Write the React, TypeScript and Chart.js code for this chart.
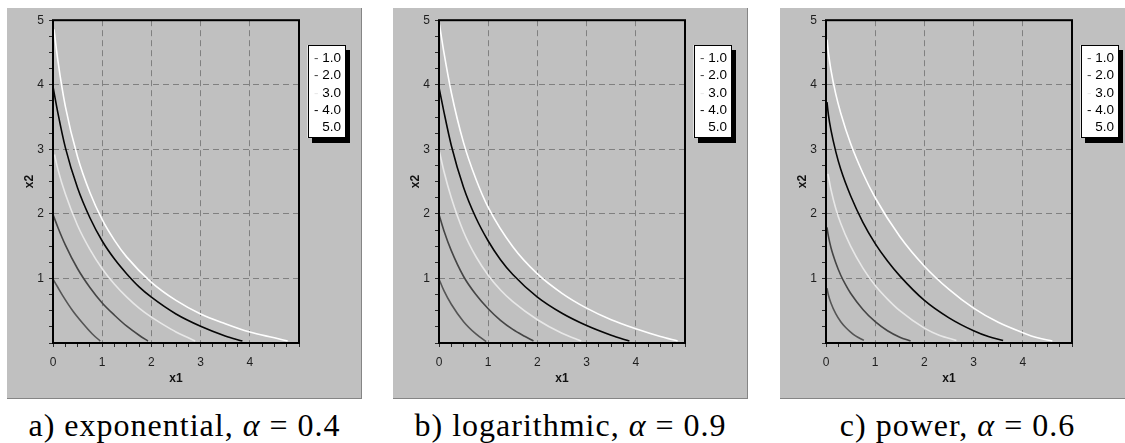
import React, { useEffect, useRef } from 'react';
import { Chart, registerables } from 'chart.js';

Chart.register(...registerables);

type Pt = [number, number];

// ---- data ----
const levelLabels = ['1.0', '2.0', '3.0', '4.0', '5.0'];
const seriesColors = ['#555555', '#454545', '#e8e8e8', '#060606', '#ffffff'];
const xTickLabels = ['0', '1', '2', '3', '4'];
const yTickLabels = ['1', '2', '3', '4', '5'];
const axisMin = 0;
const axisMax = 5;
const minorStep = 0.25;

// a) exponential, alpha = 0.4
const expCurve1: Pt[] = [[0, 0.99], [0.1, 0.86], [0.2, 0.73], [0.4, 0.5], [0.6, 0.31], [0.8, 0.14], [0.96, 0.03]];
const expCurve2: Pt[] = [[0, 1.99], [0.1, 1.79], [0.25, 1.52], [0.5, 1.15], [0.75, 0.86], [1, 0.62], [1.25, 0.43], [1.5, 0.26], [1.75, 0.12], [1.93, 0.03]];
const expCurve3: Pt[] = [[0.03, 2.92], [0.1, 2.69], [0.25, 2.31], [0.5, 1.82], [0.75, 1.45], [1, 1.15], [1.25, 0.91], [1.5, 0.71], [1.75, 0.54], [2, 0.4], [2.25, 0.28], [2.5, 0.17], [2.75, 0.08], [2.89, 0.03]];
const expCurve4: Pt[] = [[0, 3.97], [0.1, 3.56], [0.25, 3.03], [0.5, 2.4], [0.75, 1.94], [1, 1.58], [1.25, 1.3], [1.5, 1.07], [1.75, 0.87], [2, 0.71], [2.5, 0.45], [3, 0.26], [3.5, 0.11], [3.85, 0.03]];
const expCurve5: Pt[] = [[0.02, 4.86], [0.1, 4.37], [0.25, 3.67], [0.5, 2.88], [0.75, 2.33], [1, 1.91], [1.25, 1.59], [1.5, 1.33], [2, 0.94], [2.5, 0.66], [3, 0.45], [3.5, 0.3], [4, 0.17], [4.5, 0.08], [4.77, 0.03]];

// b) logarithmic, alpha = 0.9
const logCurve1: Pt[] = [[0, 0.99], [0.1, 0.81], [0.25, 0.6], [0.5, 0.33], [0.75, 0.14], [0.96, 0.02]];
const logCurve2: Pt[] = [[0, 1.99], [0.1, 1.74], [0.25, 1.43], [0.5, 1.03], [0.75, 0.75], [1, 0.53], [1.25, 0.35], [1.5, 0.21], [1.75, 0.1], [1.92, 0.03]];
const logCurve3: Pt[] = [[0.01, 2.96], [0.1, 2.66], [0.25, 2.25], [0.5, 1.72], [0.75, 1.34], [1, 1.05], [1.25, 0.82], [1.5, 0.64], [2, 0.36], [2.5, 0.15], [2.89, 0.03]];
const logCurve4: Pt[] = [[0, 3.96], [0.1, 3.58], [0.25, 3.06], [0.5, 2.41], [0.75, 1.94], [1, 1.58], [1.25, 1.29], [1.5, 1.06], [2, 0.71], [2.5, 0.46], [3, 0.27], [3.5, 0.12], [3.87, 0.03]];
const logCurve5: Pt[] = [[0.01, 4.93], [0.1, 4.5], [0.25, 3.88], [0.5, 3.1], [0.75, 2.54], [1, 2.1], [1.5, 1.49], [2, 1.07], [2.5, 0.77], [3, 0.54], [3.5, 0.36], [4, 0.22], [4.5, 0.1], [4.85, 0.03]];

// c) power, alpha = 0.6
const powCurve1: Pt[] = [[0.02, 0.85], [0.05, 0.74], [0.1, 0.62], [0.2, 0.45], [0.3, 0.33], [0.4, 0.24], [0.5, 0.17], [0.6, 0.11], [0.77, 0.04]];
const powCurve2: Pt[] = [[0.02, 1.79], [0.05, 1.65], [0.1, 1.48], [0.2, 1.24], [0.3, 1.05], [0.4, 0.9], [0.5, 0.77], [0.75, 0.52], [1, 0.33], [1.25, 0.19], [1.5, 0.09], [1.72, 0.03]];
const powCurve3: Pt[] = [[0.04, 2.62], [0.1, 2.38], [0.2, 2.08], [0.3, 1.85], [0.5, 1.5], [0.75, 1.16], [1, 0.89], [1.25, 0.68], [1.5, 0.5], [2, 0.23], [2.3, 0.12], [2.65, 0.04]];
const powCurve4: Pt[] = [[0.02, 3.73], [0.05, 3.53], [0.1, 3.3], [0.2, 2.96], [0.3, 2.69], [0.5, 2.28], [0.75, 1.87], [1, 1.54], [1.25, 1.27], [1.5, 1.04], [2, 0.66], [2.5, 0.39], [3, 0.19], [3.3, 0.1], [3.6, 0.04]];
const powCurve5: Pt[] = [[0.02, 4.7], [0.05, 4.49], [0.1, 4.23], [0.2, 3.85], [0.3, 3.56], [0.5, 3.09], [0.75, 2.63], [1, 2.25], [1.5, 1.65], [2, 1.19], [2.5, 0.83], [3, 0.54], [3.5, 0.32], [4, 0.16], [4.3, 0.08], [4.6, 0.03]];

const panels = [
  { curves: [expCurve1, expCurve2, expCurve3, expCurve4, expCurve5], left: 7, prefix: 'a) exponential, ', alpha: '0.4' },
  { curves: [logCurve1, logCurve2, logCurve3, logCurve4, logCurve5], left: 393, prefix: 'b) logarithmic, ', alpha: '0.9' },
  { curves: [powCurve1, powCurve2, powCurve3, powCurve4, powCurve5], left: 780, prefix: 'c) power, ', alpha: '0.6' },
];

// ---- styling ----
const PANEL_W = 355;
const PANEL_H = 391;
const SANS = '"Liberation Sans", Arial, Helvetica, sans-serif';

const frameLegendPlugin = {
  id: 'frameLegend',
  afterDatasetsDraw(chart: any) {
    const { ctx, chartArea: a } = chart;
    ctx.save();
    ctx.strokeStyle = '#000';
    ctx.lineWidth = 2;
    ctx.strokeRect(a.left, a.top, a.right - a.left, a.bottom - a.top);
    ctx.restore();
  },
  afterDraw(chart: any) {
    const { ctx, chartArea: a } = chart;
    const bx = a.right + 8.5;
    const by = 37;
    const bw = 38;
    const bh = 93;
    ctx.save();
    ctx.fillStyle = '#000';
    ctx.fillRect(bx + 4.5, by + 5, bw, bh);
    ctx.fillStyle = '#fff';
    ctx.fillRect(bx, by, bw, bh);
    ctx.strokeStyle = '#000';
    ctx.lineWidth = 1;
    ctx.strokeRect(Math.round(bx) + 0.5, by + 0.5, bw - 1, bh - 1);
    ctx.font = '13.5px ' + SANS;
    ctx.textBaseline = 'middle';
    ctx.textAlign = 'right';
    chart.data.datasets.forEach((ds: any, i: number) => {
      const y = by + 13.5 + i * 17.25;
      const right = bx + bw - 4.5;
      ctx.fillStyle = '#000';
      ctx.fillText(ds.label, right, y);
      const w = ctx.measureText(ds.label).width;
      ctx.fillStyle = ds.borderColor;
      ctx.fillText('- ', right - w, y);
    });
    ctx.restore();
  },
};

function isMajor(v: number) {
  return Number.isInteger(v) && v > axisMin && v < axisMax;
}

function buildConfig(curves: Pt[][]): any {
  const tickFont = { family: SANS, size: 12 };
  const titleFont = { family: SANS, size: 12, weight: 'bold' as const };
  const gridColor = (c: any) => (c.tick && isMajor(c.tick.value) ? '#808080' : 'rgba(0,0,0,0)');
  return {
    type: 'line',
    data: {
      datasets: curves.map((pts, i) => ({
        label: levelLabels[i],
        data: pts.map(([x, y]) => ({ x, y })),
        borderColor: seriesColors[i],
        backgroundColor: seriesColors[i],
        borderWidth: 1.6,
        pointRadius: 0,
        cubicInterpolationMode: 'monotone',
        fill: false,
      })),
    },
    options: {
      animation: false,
      responsive: false,
      events: [],
      layout: { padding: { left: 0, top: 11, right: 63, bottom: 0 } },
      plugins: { legend: { display: false }, tooltip: { enabled: false } },
      scales: {
        x: {
          type: 'linear',
          min: axisMin,
          max: axisMax,
          afterFit: (s: any) => { s.height = 56; },
          ticks: {
            stepSize: minorStep,
            autoSkip: false,
            maxRotation: 0,
            padding: 8,
            font: tickFont,
            color: '#1e1e1e',
            callback: (v: number) => (xTickLabels.includes(String(v)) ? String(v) : ''),
          },
          grid: { color: gridColor, tickColor: '#2a2a2a', tickLength: 4, lineWidth: 1 },
          border: { display: false, dash: [6, 4] },
          title: { display: true, text: 'x1', font: titleFont, color: '#111', padding: { top: 0, bottom: 13 } },
        },
        y: {
          type: 'linear',
          min: axisMin,
          max: axisMax,
          afterFit: (s: any) => { s.width = 46; },
          ticks: {
            stepSize: minorStep,
            autoSkip: false,
            padding: 5,
            font: tickFont,
            color: '#1e1e1e',
            callback: (v: number) => (yTickLabels.includes(String(v)) ? String(v) : ''),
          },
          grid: { color: gridColor, tickColor: '#2a2a2a', tickLength: 4, lineWidth: 1 },
          border: { display: false, dash: [6, 4] },
          title: { display: true, text: 'x2', font: titleFont, color: '#111', padding: { top: 15, bottom: 0 } },
        },
      },
    },
    plugins: [frameLegendPlugin],
  };
}

function Panel({ curves, left }: { curves: Pt[][]; left: number }) {
  const ref = useRef<HTMLCanvasElement>(null);
  useEffect(() => {
    const chart = new Chart(ref.current as HTMLCanvasElement, buildConfig(curves));
    return () => chart.destroy();
  }, [curves]);
  return (
    <div
      style={{
        position: 'absolute',
        left,
        top: 8,
        width: PANEL_W,
        height: PANEL_H,
        boxSizing: 'border-box',
        background: '#c0c0c0',
        borderRight: '1px solid #858585',
        borderBottom: '1px solid #858585',
      }}
    >
      <canvas
        ref={ref}
        width={PANEL_W}
        height={PANEL_H}
        style={{ position: 'absolute', left: 0, top: 0, width: PANEL_W, height: PANEL_H }}
      />
    </div>
  );
}

export default function App() {
  return (
    <div
      style={{
        position: 'absolute',
        left: 0,
        top: 0,
        width: 1125,
        height: 443,
        overflow: 'hidden',
        background: '#fff',
      }}
    >
      {panels.map((p, i) => (
        <Panel key={i} curves={p.curves} left={p.left} />
      ))}
      {panels.map((p, i) => (
        <div
          key={'c' + i}
          style={{
            position: 'absolute',
            left: p.left + PANEL_W / 2 - 250,
            top: 405,
            width: 500,
            height: 40,
            lineHeight: '40px',
            textAlign: 'center',
            fontFamily: '"Liberation Serif", "Times New Roman", serif',
            fontSize: 32,
            letterSpacing: '1px',
            color: '#000',
            whiteSpace: 'nowrap',
          }}
        >
          {p.prefix}
          <span style={{ fontStyle: 'italic' }}>α</span>
          {' = ' + p.alpha}
        </div>
      ))}
    </div>
  );
}
